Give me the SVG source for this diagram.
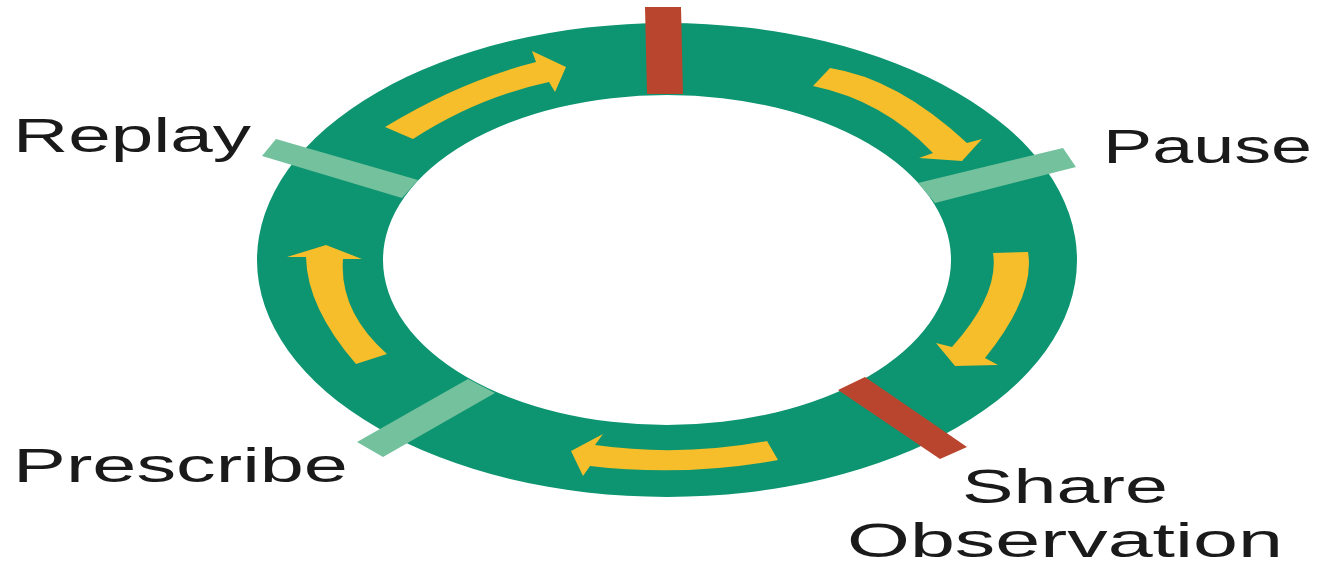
<svg xmlns="http://www.w3.org/2000/svg" width="1341" height="569" viewBox="0 0 1341 569">
<style>
.ring{fill:#0d9470;fill-rule:evenodd}
.arrow{fill:#f5be2a}
.red{fill:#b9452e}
.lite{fill:#74c19e}
.lbl{font-family:"Liberation Sans",Arial,sans-serif;font-size:49px;fill:#1a1a1a}
</style>
<rect width="1341" height="569" fill="#ffffff"/>
<g id="ring">
<path class="ring" d="M257,260 A410,237 0 1,0 1077,260 A410,237 0 1,0 257,260 Z M383,260 A284,165 0 1,0 951,260 A284,165 0 1,0 383,260 Z"/>
</g>
<g id="markers">
<polygon id="marker-top" class="red" points="645,7 681,7 683,94 647,94"/>
<polygon id="marker-share" class="red" points="838,390 865,377 967,447 940,459"/>
<polygon id="marker-pause" class="lite" points="918,183 1063,148 1076,167 935,203"/>
<polygon id="marker-replay" class="lite" points="262,156 276,139 418,180 402,198"/>
<polygon id="marker-prescribe" class="lite" points="357,442 468,379 495,393 383,457"/>
</g>
<g id="connectors">
<path class="arrow" d="M385,127 Q459.5,81.5 536,62 L532,51 L566,67 L555,92 L549,82 Q477,97.5 413,139 Z"/>
<path class="arrow" d="M830,68 Q897.5,78.5 967,143 L982,139 L962,161 L919,158 L933,153 Q883,100.5 813,86 Z"/>
<path class="arrow" d="M1028,252 Q1035.5,295 985,358 L998,365 L955,366 L936,343 L952,347 Q999.5,294 993,253 Z"/>
<path class="arrow" d="M767,441 Q681,457 595,445 L603,434 L571,451 L583,476 L590,466 Q684,477 778,460 Z"/>
<path class="arrow" d="M356,364 Q307,307.5 306,257 L287,257 L326,245 L362,259 L343,259 Q339,311.5 387,354 Z"/>
</g>
<g id="label-replay"><text class="lbl" x="13" y="152" textLength="238" lengthAdjust="spacingAndGlyphs">Replay</text></g>
<g id="label-pause"><text class="lbl" x="1103" y="163" textLength="209" lengthAdjust="spacingAndGlyphs">Pause</text></g>
<g id="label-prescribe"><text class="lbl" x="13" y="482" textLength="335" lengthAdjust="spacingAndGlyphs">Prescribe</text></g>
<g id="label-share"><text class="lbl" x="962" y="503" textLength="206" lengthAdjust="spacingAndGlyphs">Share</text>
<text class="lbl" x="847" y="557" textLength="436" lengthAdjust="spacingAndGlyphs">Observation</text></g>
</svg>
